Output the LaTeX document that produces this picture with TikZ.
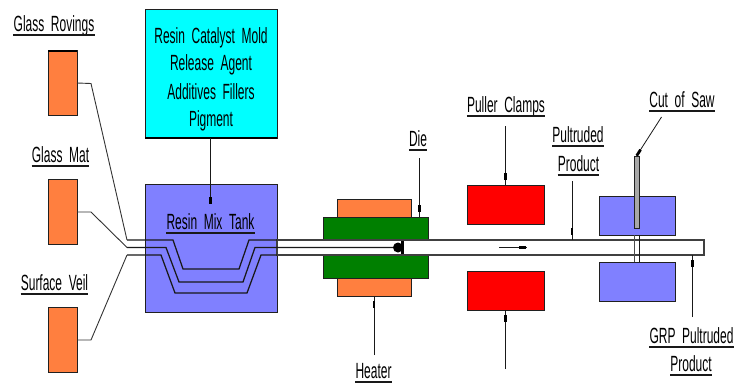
\documentclass[tikz,border=0pt]{standalone}
\usepackage{fontspec}
\setmainfont[FakeStretch=0.545,WordSpace=2.0]{Liberation Sans}
\usetikzlibrary{decorations.markings}
\definecolor{orangeb}{HTML}{FF7F3F}
\definecolor{cyanb}{HTML}{00FFFF}
\definecolor{blueb}{HTML}{8080FF}
\definecolor{greenb}{HTML}{007F00}
\definecolor{redb}{HTML}{FF0000}
\definecolor{sawb}{HTML}{A8A8A8}
\definecolor{edge}{HTML}{202020}
\tikzset{
  box/.style={draw=edge,line width=1pt,inner sep=0pt,outer sep=0pt,minimum width=#1},
  spool/.style={box=29pt,fill=orangeb,minimum height=64.5pt},
  heaterb/.style={box=74pt,fill=orangeb,minimum height=18pt},
  dieb/.style={box=105pt,fill=greenb,minimum height=23pt},
  clamp/.style={box=77pt,fill=redb,minimum height=39pt},
  sawblock/.style={box=76pt,fill=blueb,minimum height=39pt},
  strand/.style={draw=black!90,line width=1.25pt,line join=miter},
  feeder/.style={draw=black!80,line width=.9pt},
  lead/.style={draw=black!90,line width=.8pt,postaction={decorate},
    decoration={markings,mark=at position -#1 with {\fill[black] (-3.5pt,-1.4pt) rectangle (3.5pt,1.4pt);}}},
  lead/.default=8.5pt,
  plain/.style={font=\fontsize{22}{22}\selectfont,inner sep=0pt,text height=16pt,text depth=3pt,align=center},
  lab/.style={plain,anchor=south,append after command={
    (\tikzlastnode.south west) edge[draw=black!90,line width=1.2pt] (\tikzlastnode.south east)}}
}
\begin{document}
\begin{tikzpicture}[x=1pt,y=-1pt]
\useasboundingbox (0,0) rectangle (746,383);
% feed boxes
\node[spool] (rov) at (62.5,83) {};
\draw[line width=2.2pt] (rov.north west) -- (rov.north east);
\node[spool] (mat) at (62.5,212) {};
\node[spool] (veil) at (62.5,340) {};
% resin box and tank
\node[box=132pt,fill=cyanb,minimum height=129pt] (resin) at (211,73.5) {};
\draw[line width=2pt] (resin.south west) -- (resin.south east);
\node[box=132pt,fill=blueb,minimum height=128pt] (tank) at (211,248) {};
% heater, die, clamps, saw blocks
\node[heaterb] (heattop) at (374,208) {};
\node[heaterb] (heatbot) at (374,287) {};
\node[dieb] (dietop) at (375.5,228.5) {};
\node[dieb] (diebot) at (375.5,266.5) {};
\node[clamp] (clamptop) at (505.5,204.5) {};
\node[clamp] (clampbot) at (505.5,290.5) {};
\node[sawblock] (sawtop) at (637,215.5) {};
\node[sawblock] (sawbot) at (637,281.5) {};
% product tube
\node[draw=black!75,line width=1.25pt,fill=white,minimum width=427pt,minimum height=15pt,inner sep=0pt,outer sep=0pt] (tube) at (490.5,247.5) {};
\fill[white] (278,241) rectangle (322,254);
% saw cut
\draw[draw=black!70,line width=.9pt] (634,235) -- (634,262);
\draw[draw=black!90,line width=.9pt] (639,235) -- (639,262);
\node[box=5pt,fill=sawb,minimum height=72pt,line width=.9pt] (saw) at (636.5,192) {};
% strands
\coordinate (a0) at (127,240);
\coordinate (b0) at (127,247.5);
\coordinate (c0) at (127,255);
\coordinate (blob) at (398,247.5);
\draw[strand] (a0) -- (173,240) -- (183,269) -- (239,269) -- (249,240) -- (tube.north west);
\draw[strand] (b0) -- (166,247.5) -- (179,282) -- (243,282) -- (255,247.5) -- (blob);
\draw[strand] (c0) -- (161,255) -- (175,293) -- (247,293) -- (261,255) -- (tube.south west);
\fill[black] (blob) circle (5pt);
\draw[line width=3pt] (402.5,241) -- (402.5,254);
% feeders
\draw[feeder] (rov.east) -- (91,83.5) -- (a0);
\draw[feeder] (mat.east) -- (91,212) -- (b0);
\draw[feeder] (veil.east) -- (91,340) -- (c0);
% flow arrow
\coordinate (fa) at (499,247.5);
\coordinate (fb) at (527,247.5);
\draw[lead=5pt] (fa) -- (fb);
% leaders
\coordinate (ltank) at (210.5,204);
\draw[lead=4pt] (resin.south -| ltank) -- (ltank);
\coordinate (ldie) at (419.5,158);
\draw[lead] (ldie) -- (ldie |- dietop.north);
\coordinate (lheat) at (374,355);
\draw[lead] (lheat) -- (heatbot.south);
\coordinate (lpt) at (505.5,126);
\draw[lead] (lpt) -- (clamptop.north);
\coordinate (lpb) at (505.5,369);
\draw[lead] (lpb) -- (clampbot.south);
\coordinate (lpp) at (572,181);
\draw[lead] (lpp) -- (lpp |- tube.north);
\coordinate (lgrp) at (692.5,317);
\draw[lead] (lgrp) -- (lgrp |- tube.south);
\coordinate (lcut) at (661.5,117);
\draw[lead=4pt] (lcut) -- (saw.north);
% labels
\node[lab] (t1) at (54,35) {Glass Rovings};
\node[lab] (t2) at (60.5,166) {Glass Mat};
\node[lab] (t3) at (54.5,294) {Surface Veil};
\node[lab] (t4) at (210.5,233) {Resin Mix Tank};
\node[lab] (t5) at (418,150) {Die};
\node[lab] (t6) at (373.5,382) {Heater};
\node[lab] (t7) at (506,116) {Puller Clamps};
\node[lab] (t8) at (578,146) {Pultruded};
\node[lab] (t9) at (578.5,175) {Product};
\node[lab] (t10) at (682,111) {Cut of Saw};
\node[lab] (t11) at (691.5,347) {GRP Pultruded};
\node[lab] (t12) at (691,375) {Product};
\node[plain] (r1) at (211,37) {Resin Catalyst Mold};
\node[plain] (r2) at (211,64) {Release Agent};
\node[plain] (r3) at (211,93) {Additives Fillers};
\node[plain] (r4) at (211,120) {Pigment};
\end{tikzpicture}
\end{document}
